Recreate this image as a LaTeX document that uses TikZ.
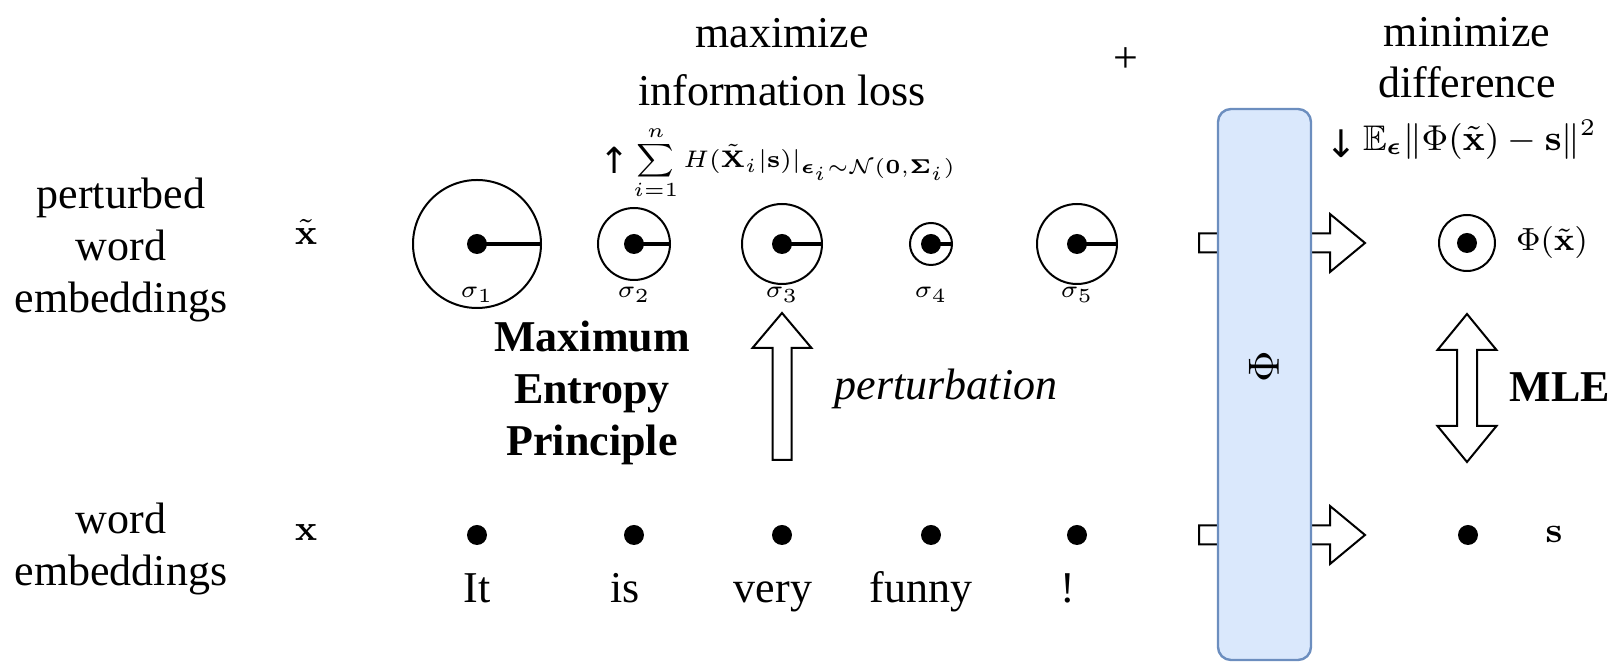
\documentclass[tikz,border=0pt]{standalone}
\usepackage{amsmath,amssymb,bm}
\usepackage[no-math]{fontspec}
\setmainfont{Liberation Serif}
\newfontfamily\dejavu{DejaVu Sans}
\definecolor{boxfill}{HTML}{DAE8FC}
\definecolor{boxdraw}{HTML}{6C8EBF}
\begin{document}
\begin{tikzpicture}[x=0.25pt,y=-0.25pt,
  txt/.style={font=\fontsize{11}{13}\selectfont, inner sep=0pt, align=center},
  mth/.style={font=\fontsize{8}{10}\selectfont, inner sep=0pt},
  sig/.style={font=\fontsize{6.5}{8}\selectfont, inner sep=0pt},
  ring/.style={circle, draw, line width=0.5pt, inner sep=0pt, outer sep=0pt},
  dot/.style={circle, fill, inner sep=0pt, minimum size=5pt},
  radiusline/.style={line width=1.1pt},
  blockarrow/.style={draw, fill=white, line width=0.5pt, line join=miter},
]
\useasboundingbox (0,0) rectangle (1611,662);

% left labels
\node[txt] (pwe) at (121,250) {perturbed\\word\\embeddings};
\node[txt] (we) at (121,549) {word\\embeddings};
\node[font=\fontsize{9}{11}\selectfont, inner sep=0pt] (xt) at (306,232) {$\tilde{\mathbf{x}}$};
\node[font=\fontsize{9}{11}\selectfont, inner sep=0pt] (xx) at (306,533) {$\mathbf{x}$};

% perturbed circles
\foreach \n/\cx/\d in {1/477/32,2/634/18,3/782/20,4/931/10.5,5/1077/20} {
  \node[ring, minimum size=\d pt] (c\n) at (\cx,244) {};
  \draw[radiusline] (c\n.center) -- (c\n.east);
  \fill (c\n.center) circle[radius=2.5pt];
  \node[sig] (s\n) at (\cx,295) {$\sigma_{\n}$};
}

% word dots and words
\foreach \n/\cx/\w/\wx in {1/477/It/477,2/634/is/625,3/782/very/773,4/931/funny/921,5/1077/!/1068} {
  \node[dot] (d\n) at (\cx,535) {};
  \node[txt, anchor=base] (w\n) at (\wx,603) {\w};
}

% perturbation arrow
\draw[blockarrow] (772.5,460) -- (772.5,348) -- (752.5,348) -- (782,313) -- (811.5,348) -- (791.5,348) -- (791.5,460) -- cycle;
\node[txt, anchor=base, font=\fontsize{11}{13}\selectfont\itshape] (pert) at (946,400) {perturbation};
\node[txt, font=\fontsize{11}{13}\selectfont\bfseries] (mep) at (592,393) {Maximum\\Entropy\\Principle};

% top texts
\node[txt, font=\fontsize{11}{14.5}\selectfont] (maxi) at (782,62) {maximize\\information loss};
\node[font=\fontsize{5.8}{7}\selectfont, inner sep=0pt] (f1) at (778,163) {\raisebox{-1.6pt}{\fontsize{9}{10}\selectfont\dejavu ↑}\hspace{1pt}$\displaystyle\sum_{i=1}^{n}H(\tilde{\mathbf{X}}_i|\mathbf{s})|_{\bm{\epsilon}_i\sim\mathcal{N}(\mathbf{0},\bm{\Sigma}_i)}$};
\node[txt] (plus) at (1126,60) {+};
\node[txt, font=\fontsize{11}{12.75}\selectfont] (mini) at (1467,58) {minimize\\difference};
\node[font=\fontsize{8.9}{10}\selectfont, inner sep=0pt] (f2) at (1461,140) {\raisebox{-1.6pt}{\fontsize{9.5}{10}\selectfont\dejavu ↓}\,$\mathbb{E}_{\bm{\epsilon}}\|\Phi(\tilde{\mathbf{x}})-\mathbf{s}\|^2$};

% arrows through Phi
\draw[blockarrow] (1199,233.5) -- (1330,233.5) -- (1330,214) -- (1365,243) -- (1330,272) -- (1330,252.5) -- (1199,252.5) -- cycle;
\draw[blockarrow] (1199,525.5) -- (1330,525.5) -- (1330,506) -- (1365,535) -- (1330,564) -- (1330,544.5) -- (1199,544.5) -- cycle;

% Phi box
\node[draw=boxdraw, fill=boxfill, line width=0.6pt, rounded corners=3.25pt, minimum width=23.25pt, minimum height=137.75pt, inner sep=0pt, outer sep=0pt] (phi) at (1264.5,384.5) {};
\node[rotate=90, font=\fontsize{11}{13}\selectfont, inner sep=0pt] (philabel) at (1264,367) {$\Phi$};

% outputs
\node[ring, minimum size=14pt] (ot) at (1467,243) {};
\fill (ot.center) circle[radius=2.5pt];
\node[mth] (otl) at (1552,243) {$\Phi(\tilde{\mathbf{x}})$};
\node[dot] (sd) at (1468,535) {};
\node[font=\fontsize{9}{11}\selectfont, inner sep=0pt] (sl) at (1554,535) {$\mathbf{s}$};

% MLE double arrow
\draw[blockarrow] (1467,314) -- (1496.5,350) -- (1477,350) -- (1477,426) -- (1496.5,426) -- (1467,462) -- (1437.5,426) -- (1457,426) -- (1457,350) -- (1437.5,350) -- cycle;
\node[font=\fontsize{11}{13}\selectfont\bfseries, inner sep=0pt] (mle) at (1560,387) {MLE};
\end{tikzpicture}
\end{document}
